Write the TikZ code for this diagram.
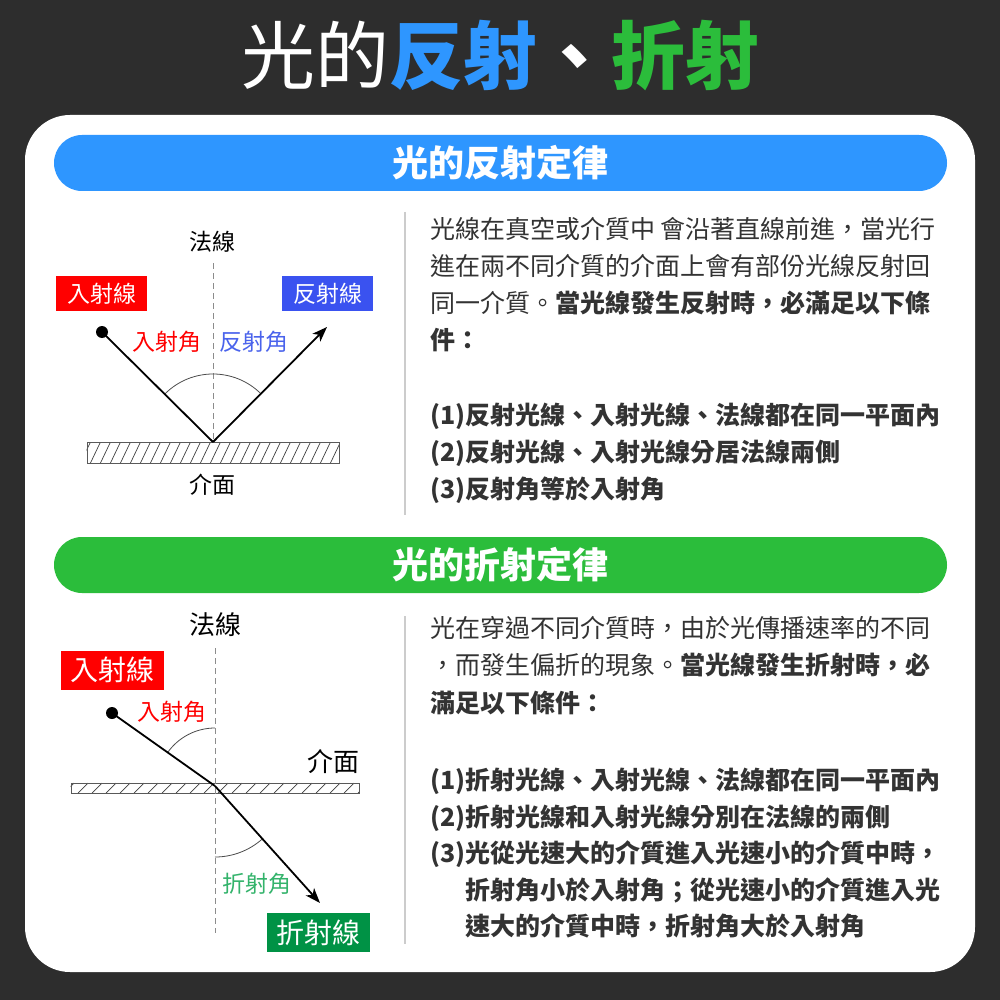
\documentclass[tikz,border=0pt]{standalone}
\usepackage{fontspec}
\setmainfont{Noto Sans CJK TC}
\usetikzlibrary{arrows.meta}
\usetikzlibrary{positioning}

\definecolor{bgdark}{HTML}{2D2D2D}
\definecolor{hblue}{HTML}{2E96FF}
\definecolor{hgreen}{HTML}{2BBD3B}
\definecolor{inred}{HTML}{FF0000}
\definecolor{refblue}{HTML}{3A52F0}
\definecolor{angblue}{HTML}{4A63EC}
\definecolor{frgreen}{HTML}{009245}
\definecolor{anggreen}{HTML}{33B36B}
\definecolor{ink}{HTML}{333333}

\begin{document}
\begin{tikzpicture}[x=1pt, y=-1pt,
    every node/.style={inner sep=0pt},
    bodyline/.style={anchor=base west, text=ink, font=\fontsize{25}{25}\selectfont},
    header/.style={rounded corners=28pt, minimum width=893pt, minimum height=56pt, text=white, font=\fontsize{36}{36}\selectfont\bfseries},
    tag/.style={text=white, minimum width=91pt, minimum height=35pt, font=\fontsize{23}{23}\selectfont},
    bigtag/.style={tag, minimum width=103pt, minimum height=39pt, font=\fontsize{28}{28}\selectfont},
    plain/.style={text=black, font=\fontsize{23}{23}\selectfont},
    bigplain/.style={text=black, font=\fontsize{26}{26}\selectfont},
    angtext/.style={font=\fontsize{23}{23}\selectfont},
    dot/.style={circle, fill=black, minimum size=12pt},
    ray/.style={line width=1.8pt, >={Stealth[length=15pt, width=11pt, inset=4pt]}},
    normalline/.style={draw=black!45, line width=1pt, dash pattern=on 6pt off 4pt},
    anglearc/.style={draw=black!70, line width=0.8pt},
    surface/.style={draw=black!65, line width=0.9pt},
    hatch/.style={draw=black!75, line width=0.7pt},
    sepline/.style={draw=black!20, line width=2pt}
  ]
  % background and card
  \useasboundingbox (0,0) rectangle (1000,1000);
  \fill[bgdark] (0,0) rectangle (1000,1000);
  \fill[white, rounded corners=45pt] (25,115) rectangle (975,972);

  % title
  \node[text=white, font=\fontsize{74}{74}\selectfont] (title) at (500,56)
    {光的\textbf{\color{hblue}反射}\textbf{、}\textbf{\color{hgreen}折射}};

  % ---- reflection ----
  \node[header, fill=hblue] (reflhead) at (500.5,163) {光的反射定律};

  \coordinate (hitR) at (213,442);
  \coordinate (normRtop) at (213,263);
  \node[dot] (srcR) at (102,332) {};
  \coordinate (tipR) at (327,327);

  \node[surface, minimum width=252pt, minimum height=21pt] (surfR) at (213,453) {};
  \begin{scope}
    \clip (surfR.south west) rectangle (surfR.north east);
    \foreach \i in {0,...,26}
      \draw[hatch] (80+\i*10,464) -- ++(10,-21);
  \end{scope}
  \node[surface, minimum width=252pt, minimum height=21pt] at (surfR) {};

  \draw[normalline] (normRtop) -- (hitR);
  \draw[anglearc] (hitR) ++(135:68pt) arc[start angle=135, end angle=45, radius=68pt];
  \draw[ray] (srcR.center) -- (hitR);
  \draw[ray, ->] (hitR) -- (tipR);

  \node[plain] (normRlab) at (212,242) {法線};
  \node[plain] (surfRlab) at (212,485) {介面};
  \node[tag, fill=inred] (inRtag) at (101.5,293.5) {入射線};
  \node[tag, fill=refblue] (outRtag) at (327.5,293.5) {反射線};
  \node[angtext, text=inred] (inRang) at (167,342) {入射角};
  \node[angtext, text=angblue] (outRang) at (254,342) {反射角};

  \coordinate (sepRa) at (405,212);
  \coordinate (sepRb) at (405,515);
  \draw[sepline] (sepRa) -- (sepRb);

  \node[bodyline] (r1) at (430,238) {光線在真空或介質中 會沿著直線前進，當光行};
  \node[bodyline] (r2) at (430,275) {進在兩不同介質的介面上會有部份光線反射回};
  \node[bodyline] (r3) at (430,312) {同一介質。\textbf{當光線發生反射時，必滿足以下條}};
  \node[bodyline] (r4) at (430,349) {\textbf{件：}};
  \node[bodyline] (r5) at (430,424) {\textbf{(1)反射光線、入射光線、法線都在同一平面內}};
  \node[bodyline] (r6) at (430,461) {\textbf{(2)反射光線、入射光線分居法線兩側}};
  \node[bodyline] (r7) at (430,498) {\textbf{(3)反射角等於入射角}};

  % ---- refraction ----
  \node[header, fill=hgreen] (frachead) at (500.5,565) {光的折射定律};

  \coordinate (hitF) at (215,786);
  \coordinate (normFtop) at (215,648);
  \coordinate (normFbot) at (215,933);
  \node[dot] (srcF) at (112,713) {};
  \coordinate (tipF) at (320,903);

  \node[surface, minimum width=288pt, minimum height=10pt] (surfF) at (215,788) {};
  \begin{scope}
    \clip (surfF.south west) rectangle (surfF.north east);
    \foreach \i in {0,...,21}
      \draw[hatch] (64+\i*14,793) -- ++(10,-10);
  \end{scope}
  \node[surface, minimum width=288pt, minimum height=10pt] at (surfF) {};

  \draw[normalline] (normFtop) -- (normFbot);
  \draw[anglearc] (hitF) ++(90:58pt) arc[start angle=90, end angle=145, radius=58pt];
  \draw[anglearc] (hitF) ++(270:71pt) arc[start angle=270, end angle=312, radius=71pt];
  \draw[ray] (srcF.center) -- (hitF);
  \draw[ray, ->] (hitF) -- (tipF);

  \node[bigplain] (normFlab) at (215,625) {法線};
  \node[bigplain] (surfFlab) at (333,762) {介面};
  \node[bigtag, fill=inred] (inFtag) at (112.5,670) {入射線};
  \node[bigtag, fill=frgreen] (outFtag) at (318.5,932.5) {折射線};
  \node[angtext, text=inred] (inFang) at (172,712) {入射角};
  \node[angtext, text=anggreen] (outFang) at (257,884) {折射角};

  \coordinate (sepFa) at (405,616);
  \coordinate (sepFb) at (405,944);
  \draw[sepline] (sepFa) -- (sepFb);

  \node[bodyline] (f1) at (430,637) {光在穿過不同介質時，由於光傳播速率的不同};
  \node[bodyline] (f2) at (430,674) {，而發生偏折的現象。\textbf{當光線發生折射時，必}};
  \node[bodyline] (f3) at (430,712) {\textbf{滿足以下條件：}};
  \node[bodyline] (f4) at (430,789) {\textbf{(1)折射光線、入射光線、法線都在同一平面內}};
  \node[bodyline] (f5) at (430,826) {\textbf{(2)折射光線和入射光線分別在法線的兩側}};
  \node[bodyline] (f6) at (430,862) {\textbf{(3)光從光速大的介質進入光速小的介質中時，}};
  \node[bodyline] (f7) at (465,899) {\textbf{折射角小於入射角；從光速小的介質進入光}};
  \node[bodyline] (f8) at (465,935) {\textbf{速大的介質中時，折射角大於入射角}};
\end{tikzpicture}
\end{document}
